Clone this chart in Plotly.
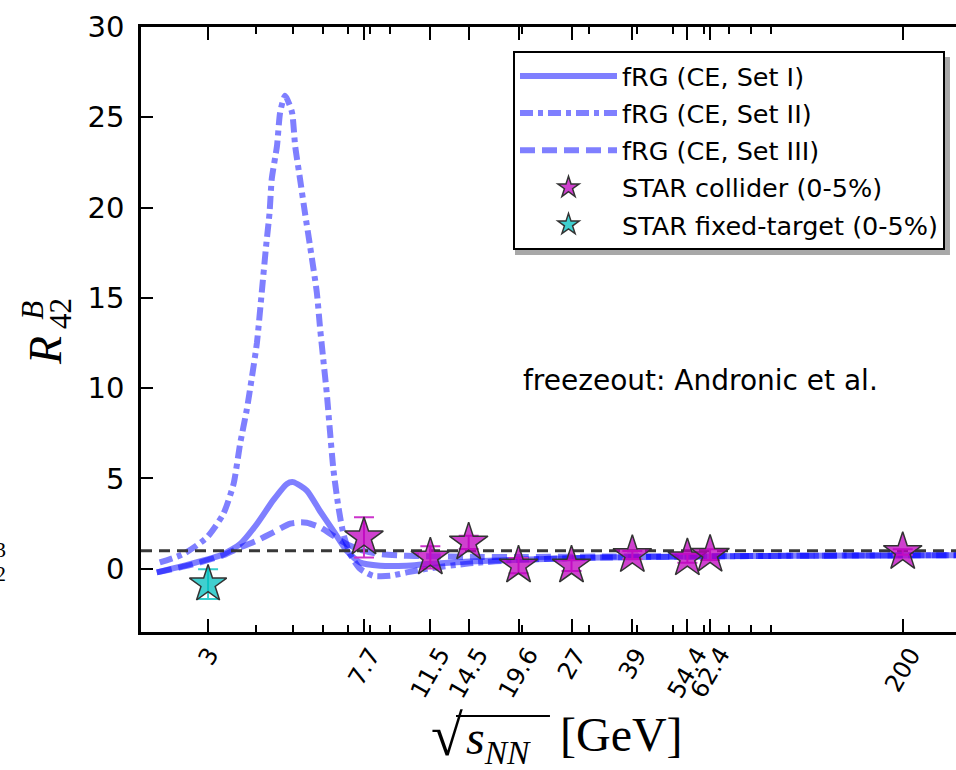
import math
import plotly.graph_objects as go

# ---- fRG model curves: R42^B versus collision energy (GeV) ----
energy_set1 = [2.20, 2.69, 3.29, 3.64, 4.03, 4.45, 4.83, 5.02, 5.45, 5.90, 6.40,
               6.94, 7.52, 8.49, 9.97, 11.25, 14.6, 19.8, 32.1, 58.7, 107.5, 300]
r42_set1 = [-0.2, 0.26, 0.81, 1.37, 2.48, 3.8, 4.7, 4.8, 4.33, 3.2, 2.1,
            1.0, 0.35, 0.17, 0.17, 0.26, 0.4, 0.5, 0.62, 0.68, 0.72, 0.76]

energy_set2 = [2.24, 2.58, 2.98, 3.29, 3.50, 3.64, 3.79, 3.91, 4.03, 4.15, 4.26,
               4.35, 4.41, 4.55, 4.64, 4.78, 4.98, 5.08, 5.23, 5.39, 5.56, 5.79,
               5.90, 6.02, 6.15, 6.27, 6.40, 6.60, 6.80, 7.08, 7.52, 8.15, 9.02,
               9.97, 11.25, 14.6, 19.8, 32.1, 58.7, 107.5, 300]
r42_set2 = [0.35, 0.81, 1.74, 3.04, 4.7, 6.9, 8.8, 10.6, 12.5, 15.3, 17.85,
            19.7, 21.6, 23.4, 25.3, 26.2, 25.3, 23.4, 21.6, 19.7, 17.85, 15.3,
            13.4, 11.6, 9.7, 7.6, 5.5, 3.4, 1.93, 0.81, 0.0, -0.39, -0.39,
            -0.2, 0.0, 0.3, 0.5, 0.62, 0.68, 0.72, 0.76]

energy_set3 = [2.20, 2.69, 3.29, 3.64, 4.03, 4.45, 4.93, 5.23, 5.45, 5.90, 6.40,
               6.94, 7.67, 8.49, 9.97, 11.25, 14.6, 19.8, 32.1, 58.7, 107.5, 300]
r42_set3 = [-0.2, 0.2, 0.75, 1.18, 1.56, 2.02, 2.5, 2.57, 2.55, 2.3, 1.83,
            1.37, 1.0, 0.81, 0.72, 0.7, 0.66, 0.65, 0.68, 0.7, 0.72, 0.76]

# ---- STAR measurements (0-5% central) ----
collider_energy = [7.7, 11.5, 14.5, 19.6, 27, 39, 54.4, 62.4, 200]
collider_r42 = [1.74, 0.63, 1.46, 0.18, 0.18, 0.76, 0.58, 0.78, 0.93]
collider_err = [1.11, 0.62, 0.37, 0.42, 0.30, 0.22, 0.25, 0.30, 0.15]

fixed_energy = [3.0]
fixed_r42 = [-0.85]
fixed_err = [0.82]

# Poisson baseline
REF_LEVEL = 1.0

# ---- axes ----
tick_energies = [3, 7.7, 11.5, 14.5, 19.6, 27, 39, 54.4, 62.4, 200]
tick_labels = ["3", "7.7", "11.5", "14.5", "19.6", "27", "39", "54.4", "62.4", "200"]
minor_energies = [2, 4, 5, 6, 7, 8, 9, 20, 30, 40, 50, 60, 70, 80, 90, 300]
y_ticks = [0, 5, 10, 15, 20, 25, 30]
X_MIN, X_MAX = 2.0, 276.0
Y_MIN, Y_MAX = -3.5, 30.0

LINE_COLOR = "rgba(0,0,255,0.5)"
SANS = "DejaVu Sans"
SERIF = "Liberation Serif"

fig = go.Figure()

fig.add_trace(go.Scatter(
    x=energy_set1, y=r42_set1, mode="lines", name="fRG (CE, Set I)",
    legendgroup="a",
    line=dict(color=LINE_COLOR, width=6, shape="spline", smoothing=0.6)))
fig.add_trace(go.Scatter(
    x=energy_set2, y=r42_set2, mode="lines", name="fRG (CE, Set II)",
    legendgroup="b",
    line=dict(color=LINE_COLOR, width=6, shape="spline", smoothing=0.6,
              dash="13px,5px,5px,5px")))
fig.add_trace(go.Scatter(
    x=energy_set3, y=r42_set3, mode="lines", name="fRG (CE, Set III)",
    legendgroup="c",
    line=dict(color=LINE_COLOR, width=6, shape="spline", smoothing=0.6,
              dash="15px,7px")))

fig.add_trace(go.Scatter(
    x=[X_MIN, 300], y=[REF_LEVEL, REF_LEVEL], mode="lines", showlegend=False,
    hoverinfo="skip", line=dict(color="#383838", width=3, dash="11px,7px")))

fig.add_trace(go.Scatter(
    x=collider_energy, y=collider_r42, mode="markers", name="STAR collider (0-5%)",
    legendgroup="d",
    error_y=dict(type="data", array=collider_err, color="#cc33cc", thickness=2, width=10),
    marker=dict(symbol="star", size=29, color="rgba(191,0,191,0.75)",
                line=dict(color="#333333", width=1.5))))
fig.add_trace(go.Scatter(
    x=fixed_energy, y=fixed_r42, mode="markers", name="STAR fixed-target (0-5%)",
    legendgroup="e",
    error_y=dict(type="data", array=fixed_err, color="#33cccc", thickness=2, width=10),
    marker=dict(symbol="star", size=28, color="rgba(0,191,191,0.75)",
                line=dict(color="#333333", width=1.5))))

annotations = []
# rotated energy labels, centred under their ticks
for e, lab in zip(tick_energies, tick_labels):
    annotations.append(dict(
        x=math.log10(e), xref="x", y=-0.014, yref="paper",
        text=lab, textangle=-60, showarrow=False,
        xanchor="center", yanchor="top",
        font=dict(family=SANS, size=24, color="black")))

# x-axis title: radical, s_NN and unit as separate pieces
annotations.append(dict(
    x=0.3755, xref="paper", y=-0.1703, yref="paper", text="√",
    showarrow=False, xanchor="center", yanchor="middle",
    font=dict(family=SERIF, size=58, color="black")))
annotations.append(dict(
    x=0.3963, xref="paper", y=-0.1802, yref="paper",
    text="<i>s</i><sub><i>NN</i></sub>", showarrow=False,
    xanchor="left", yanchor="middle", height=54,
    font=dict(family=SERIF, size=48, color="black")))
annotations.append(dict(
    x=0.5117, xref="paper", y=-0.170, yref="paper", text="[GeV]",
    showarrow=False, xanchor="left", yanchor="middle",
    font=dict(family=SERIF, size=48, color="black")))

# y-axis title R_42^B built from stacked pieces
annotations.append(dict(
    x=-0.118, xref="paper", y=0.466, yref="paper", text="<i>R</i>",
    textangle=-90, showarrow=False, xanchor="center", yanchor="middle",
    font=dict(family=SERIF, size=46, color="black")))
annotations.append(dict(
    x=-0.133, xref="paper", y=0.532, yref="paper", text="<i>B</i>",
    textangle=-90, showarrow=False, xanchor="center", yanchor="middle",
    font=dict(family=SERIF, size=31, color="black")))
annotations.append(dict(
    x=-0.099, xref="paper", y=0.526, yref="paper", text="42",
    textangle=-90, showarrow=False, xanchor="center", yanchor="middle",
    font=dict(family=SERIF, size=31, color="black")))

# freeze-out parametrisation note
annotations.append(dict(
    x=0.687, xref="paper", y=0.415, yref="paper",
    text="freezeout: Andronic et al.", showarrow=False,
    xanchor="center", yanchor="middle",
    font=dict(family=SANS, size=28, color="black")))

# edge of the neighbouring panel's label
annotations.append(dict(
    x=-0.172, xref="paper", y=0.137, yref="paper", text="3", showarrow=False,
    xanchor="center", yanchor="middle", font=dict(family=SERIF, size=22, color="black")))
annotations.append(dict(
    x=-0.172, xref="paper", y=0.097, yref="paper", text="2", showarrow=False,
    xanchor="center", yanchor="middle", font=dict(family=SERIF, size=22, color="black")))

shapes = [
    # legend drop shadow
    dict(type="rect", xref="paper", yref="paper",
         x0=0.4589, x1=0.9926, y0=0.6231, y1=0.9504,
         fillcolor="#a8a8a8", line=dict(width=0), layer="above"),
    # bar of the square root
    dict(type="line", xref="paper", yref="paper",
         x0=0.3865, x1=0.5018, y0=-0.1389, y1=-0.1389,
         line=dict(color="black", width=2)),
]

fig.update_layout(
    width=956, height=770,
    margin=dict(l=141, r=0, t=27, b=138),
    paper_bgcolor="white", plot_bgcolor="white",
    showlegend=True,
    legend=dict(x=0.9865, xanchor="right", y=0.9605, yanchor="top",
                bgcolor="white", bordercolor="black", borderwidth=2,
                font=dict(family=SANS, size=25.5, color="black"),
                itemwidth=97, tracegroupgap=1, traceorder="grouped"),
    annotations=annotations,
    shapes=shapes,
)

fig.update_xaxes(
    type="log", range=[math.log10(X_MIN), math.log10(X_MAX)],
    showgrid=False, zeroline=False,
    showline=True, linecolor="black", linewidth=2.5, mirror="ticks",
    tickmode="array", tickvals=tick_energies, showticklabels=False,
    ticks="inside", ticklen=13, tickwidth=1.5, tickcolor="black",
    minor=dict(tickmode="array", tickvals=minor_energies, ticks="inside",
               ticklen=7, tickwidth=1.5, tickcolor="black", showgrid=False),
)
fig.update_yaxes(
    range=[Y_MIN, Y_MAX], showgrid=False, zeroline=False,
    showline=True, linecolor="black", linewidth=2.5, mirror=False,
    tickmode="array", tickvals=y_ticks,
    ticks="inside", ticklen=12, tickwidth=1.5, tickcolor="black",
    tickfont=dict(family=SANS, size=29, color="black"),
    ticklabelstandoff=8,
)

fig.write_html("out.html")
